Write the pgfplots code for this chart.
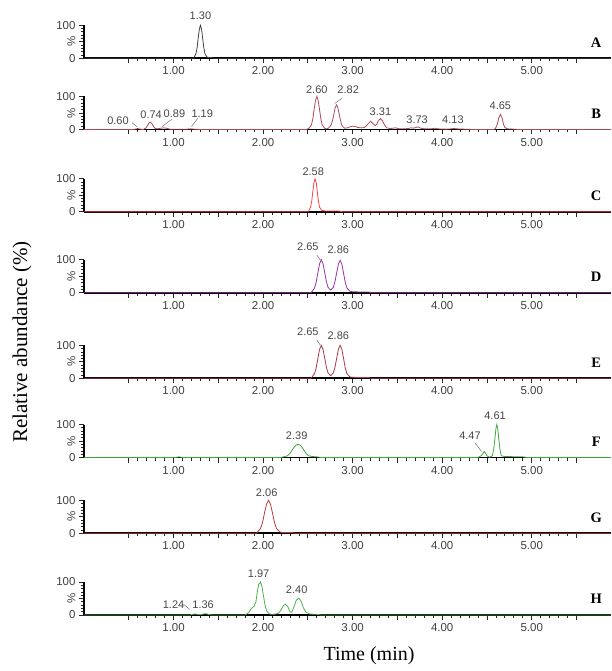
\documentclass[border=0pt]{standalone}
\usepackage{fontspec}
\usepackage{graphicx}
\usepackage{pgfplots}
\pgfplotsset{compat=1.18}
\setmainfont{Liberation Sans}
\newfontfamily\serifx{Liberation Serif}
\definecolor{cA}{HTML}{404040}
\definecolor{cB}{HTML}{B04A5A}
\definecolor{cC}{HTML}{FF4040}
\definecolor{cD}{HTML}{9B30A8}
\definecolor{cE}{HTML}{A83A48}
\definecolor{cF}{HTML}{3CA83C}
\definecolor{cG}{HTML}{B83A3A}
\definecolor{cH}{HTML}{4CB04C}
\newcommand{\pkfont}{\fontsize{11}{13}\selectfont}
\newcommand{\pk}[3]{\node[font=\pkfont, text=black!72, inner sep=0pt] at (axis cs:#1,#2) {#3};}
\newcommand{\ld}[4]{\draw[black!55, line width=0.5pt] (axis cs:#1,#2) -- (axis cs:#3,#4);}
\newcommand{\plab}[1]{\node[font=\serifx\bfseries\fontsize{14.5}{17}\selectfont, inner sep=0pt] at (axis cs:5.72,48) {#1};}
\pgfplotsset{chrom/.style={
  width=527pt, height=33pt, scale only axis,
  xmin=0, xmax=5.885, ymin=0, ymax=100,
  axis x line*=bottom, axis y line*=left,
  x axis line style={line width=1.9pt,-},
  y axis line style={line width=1.1pt,-},
  clip=false,
  xtick={0.5,1,...,5.5},
  xticklabels={,1.00,,2.00,,3.00,,4.00,,5.00,},
  minor x tick num=4,
  ytick={0,50,100},
  yticklabels={0,\rotatebox{90}{\%},100},
  minor y tick num=4,
  tick align=outside,
  major tick length=5pt, minor tick length=3pt,
  every tick/.style={black!85, line width=0.8pt},
  tick label style={font=\fontsize{11.5}{13}\selectfont, text=black!75},
  /pgf/number format/assume math mode=true,
  anchor=south west,
}}
\begin{document}
\begin{tikzpicture}
\path[use as bounding box] (0,0) rectangle (611pt,-671pt);

% A
\begin{axis}[chrom, at={(84pt,-58.3pt)}]
\addplot[cA, line width=0.8pt] coordinates {
(0,0) (1.225,0) (1.25,14) (1.263,32) (1.275,61) (1.288,88) (1.30,100) (1.313,88) (1.325,61) (1.338,32) (1.35,14) (1.375,3) (1.42,2) (1.46,0) (5.885,0)};
\pk{1.30}{128}{1.30}
\plab{A}
\end{axis}

% B
\begin{axis}[chrom, at={(84pt,-129.5pt)}]
\addplot[cB, line width=0.8pt] coordinates {
(0,0) (0.55,0) (0.58,1.5) (0.60,3) (0.62,1.5) (0.66,0) (0.69,4) (0.71,12) (0.725,19) (0.74,22) (0.755,19) (0.77,12) (0.79,4) (0.82,2) (0.86,4) (0.89,5) (0.92,4) (0.96,1) (1.05,0.5) (1.15,1) (1.19,2) (1.23,1) (1.3,0)
(2.48,0) (2.51,3) (2.54,14) (2.555,32) (2.57,61) (2.585,88) (2.60,100) (2.615,88) (2.63,61) (2.645,32) (2.66,14) (2.69,3) (2.71,2) (2.73,4) (2.76,14) (2.775,27) (2.79,46) (2.805,66) (2.82,75) (2.835,66) (2.85,46) (2.865,27) (2.88,12) (2.91,4) (2.94,5) (2.97,8) (3.00,10) (3.03,9) (3.06,6) (3.10,5) (3.13,6) (3.15,10) (3.175,18) (3.20,25) (3.225,18) (3.25,12) (3.27,16) (3.285,26) (3.31,33) (3.335,26) (3.355,14) (3.38,5) (3.42,3) (3.48,5) (3.52,2) (3.58,2) (3.62,3) (3.65,5) (3.68,4) (3.73,8) (3.76,4) (3.80,2) (3.88,2) (3.92,4) (3.95,2) (4.05,1) (4.10,2) (4.13,3) (4.16,2) (4.25,1) (4.35,0)
(4.58,0) (4.60,6) (4.615,15) (4.63,34) (4.65,46) (4.67,34) (4.685,15) (4.70,6) (4.73,2) (4.80,1) (4.85,0) (5.885,0)};
\pk{0.38}{27}{0.60} \ld{0.536}{21}{0.59}{8.5}
\pk{0.75}{44}{0.74}
\pk{1.01}{49}{0.89} \ld{0.98}{31}{0.87}{8.5}
\pk{1.32}{49}{1.19} \ld{1.27}{34}{1.20}{8.5}
\pk{2.60}{120}{2.60}
\pk{2.95}{120}{2.82} \ld{2.88}{94.5}{2.80}{79}
\pk{3.31}{54}{3.31}
\pk{3.72}{29}{3.73}
\pk{4.12}{29}{4.13}
\pk{4.65}{71}{4.65}
\plab{B}
\end{axis}

% C
\begin{axis}[chrom, at={(84pt,-211.7pt)}]
\addplot[cC, line width=0.8pt] coordinates {
(0,0) (2.505,0) (2.53,14) (2.543,32) (2.555,61) (2.568,88) (2.58,100) (2.593,88) (2.605,61) (2.618,32) (2.63,14) (2.655,4) (2.70,2) (2.85,2) (2.88,0) (5.885,0)};
\pk{2.56}{121}{2.58}
\plab{C}
\end{axis}

% D
\begin{axis}[chrom, at={(84pt,-292.7pt)}]
\addplot[cD, line width=0.8pt] coordinates {
(0,0) (2.536,0) (2.574,14) (2.593,32) (2.612,61) (2.631,88) (2.65,100) (2.669,88) (2.688,61) (2.707,33) (2.726,16) (2.755,8) (2.784,16) (2.803,34) (2.822,61) (2.841,87) (2.86,98) (2.879,87) (2.898,60) (2.917,32) (2.936,14) (2.97,4) (3.0,3) (3.10,2) (3.18,2) (3.21,0) (5.885,0)};
\pk{2.50}{139}{2.65} \ld{2.60}{114}{2.64}{99}
\pk{2.84}{129}{2.86}
\plab{D}
\end{axis}

% E
\begin{axis}[chrom, at={(84pt,-378.3pt)}]
\addplot[cE, line width=0.8pt] coordinates {
(0,0) (2.536,0) (2.574,14) (2.593,32) (2.612,61) (2.631,88) (2.65,100) (2.669,88) (2.688,61) (2.707,33) (2.726,16) (2.755,8) (2.784,16) (2.803,34) (2.822,61) (2.841,88) (2.86,100) (2.879,88) (2.898,61) (2.917,32) (2.936,14) (2.97,4) (3.0,3) (3.10,2) (3.18,2) (3.21,0) (5.885,0)};
\pk{2.50}{142}{2.65} \ld{2.60}{116}{2.64}{100}
\pk{2.84}{130}{2.86}
\plab{E}
\end{axis}

% F
\begin{axis}[chrom, at={(84pt,-457.5pt)}]
\addplot[cF, line width=0.8pt] coordinates {
(0,0) (1.02,0) (1.06,2) (1.10,0) (2.20,0) (2.27,5) (2.30,12) (2.33,25) (2.36,36) (2.39,40) (2.42,36) (2.45,25) (2.48,12) (2.51,5) (2.55,3) (2.60,2) (2.65,0) (4.40,0) (4.44,6) (4.455,13) (4.47,18) (4.485,13) (4.50,5) (4.53,1) (4.56,5) (4.575,25) (4.59,61) (4.60,88) (4.61,100) (4.62,88) (4.63,61) (4.645,25) (4.66,5) (4.70,3) (4.90,2) (4.95,0) (5.885,0)};
\pk{2.375}{65}{2.39}
\pk{4.31}{65}{4.47} \ld{4.37}{43}{4.44}{18}
\pk{4.59}{126}{4.61}
\plab{F}
\end{axis}

% G
\begin{axis}[chrom, at={(84pt,-533.3pt)}]
\addplot[cG, line width=0.8pt] coordinates {
(0,0) (1.925,0) (1.97,14) (1.993,32) (2.015,61) (2.038,88) (2.06,100) (2.083,88) (2.105,61) (2.128,32) (2.15,14) (2.195,3) (2.25,2) (2.33,2) (2.36,0) (5.885,0)};
\pk{2.04}{123}{2.06}
\plab{G}
\end{axis}

% H
\begin{axis}[chrom, at={(84pt,-615pt)}]
\addplot[cH, line width=0.8pt] coordinates {
(0,0) (1.18,0) (1.21,2) (1.24,3) (1.27,2) (1.30,1) (1.33,3) (1.36,4) (1.39,2) (1.43,0) (1.80,0) (1.84,8) (1.87,20) (1.90,27) (1.92,40) (1.935,70) (1.95,92) (1.97,100) (1.985,90) (2.00,65) (2.02,32) (2.04,12) (2.07,3) (2.12,2) (2.17,5) (2.20,15) (2.225,28) (2.25,33) (2.275,26) (2.30,10) (2.32,8) (2.345,25) (2.37,45) (2.40,51) (2.425,42) (2.45,22) (2.48,8) (2.52,3) (2.60,2) (2.65,0) (5.885,0)};
\pk{1.00}{30}{1.24} \ld{1.11}{33}{1.18}{17}
\pk{1.33}{30}{1.36}
\pk{1.95}{126}{1.97}
\pk{2.375}{76}{2.40}
\plab{H}
\end{axis}

\node[rotate=90, font=\serifx\fontsize{21}{24}\selectfont] at (22pt,-342pt) {Relative abundance (\%)};
\node[font=\serifx\fontsize{20}{23}\selectfont] at (369pt,-656pt) {Time (min)};
\end{tikzpicture}
\end{document}
